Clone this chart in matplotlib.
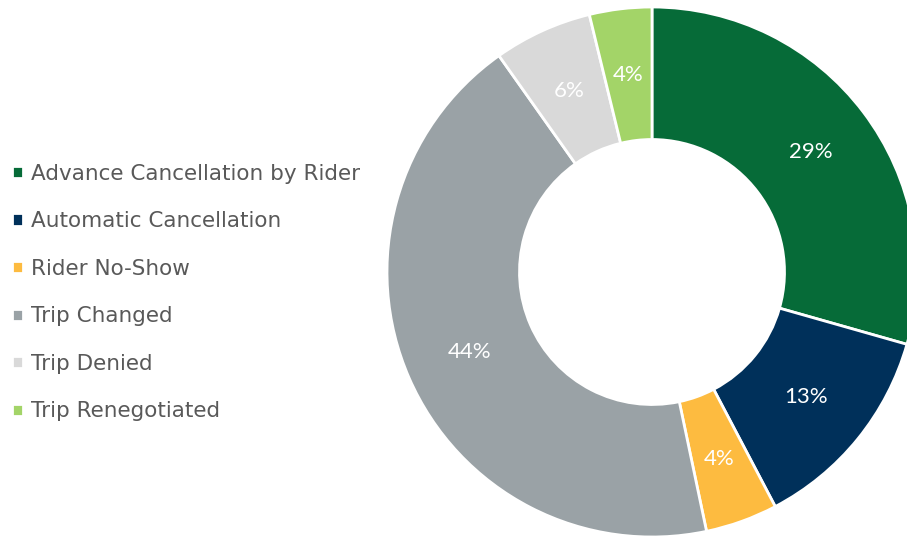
import matplotlib.pyplot as plt

# Data
categories = ['Advance Cancellation by Rider', 'Automatic Cancellation', 'Rider No-Show',
              'Trip Changed', 'Trip Denied', 'Trip Renegotiated']
shares = [29.4, 12.9, 4.4, 43.5, 6.0, 3.8]
colors = ['#066B38', '#00305A', '#FDBB40', '#9AA2A6', '#D9D9D9', '#A3D468']

W, H = 907, 539
fig = plt.figure(figsize=(W / 100, H / 100), dpi=100)

# donut centred at (652, 272) px, radius 265 px
cx, cy, r = 652, 272, 265
ax = fig.add_axes([(cx - r) / W, (H - cy - r) / H, 2 * r / W, 2 * r / H])
wedges, texts, autotexts = ax.pie(
    shares, colors=colors, startangle=90, counterclock=False,
    autopct='%.0f%%', pctdistance=0.75,
    wedgeprops=dict(width=0.5, edgecolor='white', linewidth=2),
    textprops=dict(color='white', fontsize=16, family='Lato'))
ax.set_xlim(-1, 1)
ax.set_ylim(-1, 1)
ax.set_aspect('equal')

fig.legend(wedges, categories, loc='center left', bbox_to_anchor=(12 / W, 1 - 292.5 / H),
           frameon=False, fontsize=15.5, labelcolor='#595959',
           handlelength=0.5, handleheight=0.5, handletextpad=0.4,
           labelspacing=1.28, borderpad=0, borderaxespad=0)

fig.savefig('out.png', dpi=100)
